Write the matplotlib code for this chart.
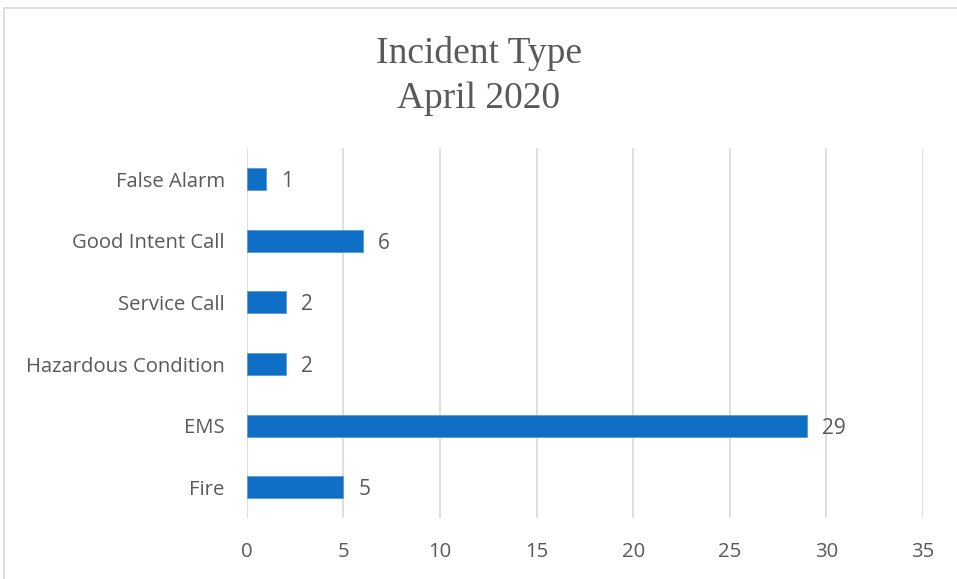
import matplotlib
matplotlib.use('Agg')
from matplotlib import pyplot as plt
from matplotlib.patches import Rectangle

categories = ['Fire', 'EMS', 'Hazardous Condition', 'Service Call', 'Good Intent Call', 'False Alarm']
counts = [5, 29, 2, 2, 6, 1]
x_ticks = [0, 5, 10, 15, 20, 25, 30, 35]

text_color = '#595959'
bar_color = '#0F6FC6'
grid_color = '#D9D9D9'

plt.rcParams['font.family'] = ['Open Sans', 'DejaVu Sans']

fig = plt.figure(figsize=(9.57, 5.79), dpi=100)
fig.patches.append(Rectangle((0.004, -0.01), 1.1, 0.997, transform=fig.transFigure,
                             fill=False, edgecolor='#D9D9D9', linewidth=1.2))

ax = fig.add_axes([0.258, 0.105, 0.7065, 0.639])
bars = ax.barh(categories, counts, height=0.36, color=bar_color,
               edgecolor='#5B9BD5', linewidth=0.6, zorder=3)
labels = ax.bar_label(bars, labels=[str(c) for c in counts], padding=11,
                      color=text_color, fontsize=15)
for t in labels:
    t.set_va('center_baseline')

ax.set_xlim(0, 35)
ax.set_ylim(-0.5, len(categories) - 0.5)
ax.set_xticks(x_ticks)
ax.grid(axis='x', color=grid_color, linewidth=1.2, zorder=0)
ax.tick_params(axis='both', length=0, colors=text_color, labelsize=14.6)
ax.tick_params(axis='x', pad=17)
ax.tick_params(axis='y', pad=16)
for s in ax.spines.values():
    s.set_visible(False)

fig.text(0.5, 0.907, 'Incident Type', ha='center', va='center', fontsize=27,
         color=text_color, family=['Liberation Serif', 'DejaVu Serif'])
fig.text(0.5, 0.829, 'April 2020', ha='center', va='center', fontsize=27,
         color=text_color, family=['Liberation Serif', 'DejaVu Serif'])

fig.savefig('out.png', dpi=100)
